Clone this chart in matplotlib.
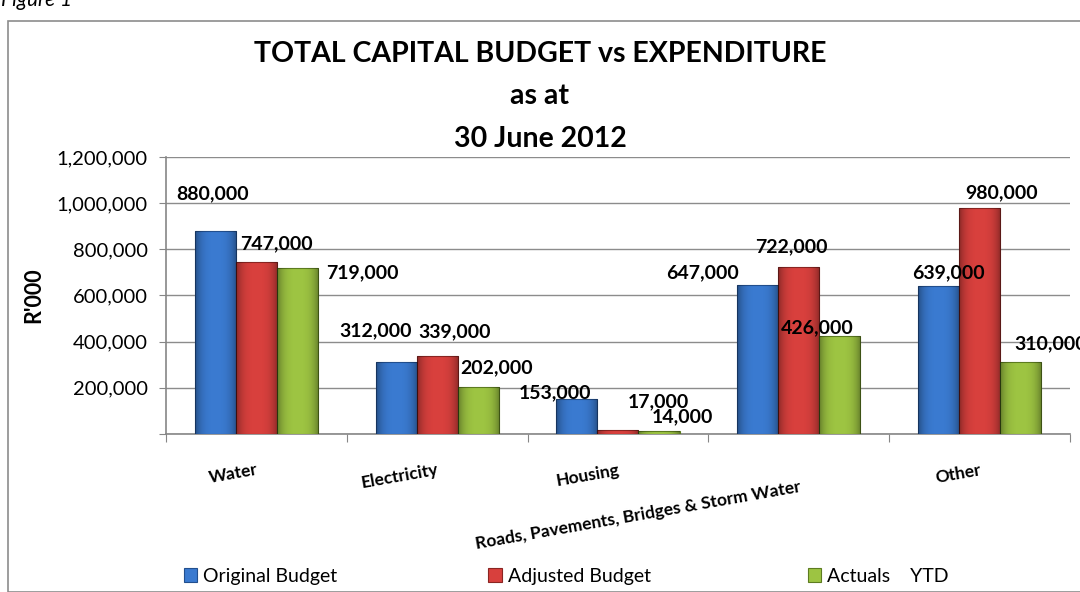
import matplotlib
matplotlib.use("Agg")
import matplotlib.pyplot as plt
import matplotlib.transforms as mtransforms
import numpy as np
from matplotlib.patches import Rectangle

categories = ["Water", "Electricity", "Housing",
              "Roads, Pavements, Bridges & Storm Water", "Other"]
original_budget = [880000, 312000, 153000, 647000, 639000]
adjusted_budget = [747000, 339000, 17000, 722000, 980000]
actuals_ytd = [719000, 202000, 14000, 426000, 310000]
series_names = ["Original Budget", "Adjusted Budget", "Actuals    YTD"]

colors = ["#3a7ad0", "#d8403d", "#9dc442"]
edges = ["#224f8e", "#8a2522", "#5d7c20"]

# label offsets (pixels) from each bar's top centre, as Excel placed them
label_dx = [[-3, -21, -22, -55, 10],
            [20, 17, 40, -7, 22],
            [65, 18, 23, -23, 30]]
label_dy = [[37, 31, 6, 12, 14],
            [18, 24, 28, 21, 15],
            [-5, 20, 14, 8, 19]]

plt.rcParams["font.family"] = ["Lato", "DejaVu Sans"]

fig = plt.figure(figsize=(10.8, 5.92), dpi=100)
ax = fig.add_axes([0.1537, 0.2669, 0.837, 0.4679])

x = np.arange(len(categories))
width = 0.227
values = [original_budget, adjusted_budget, actuals_ytd]

# bevel shading: transparent in the middle, darker towards the sides
t = np.abs(np.linspace(-1, 1, 64)) ** 3
shade = np.zeros((1, 64, 4))
shade[0, :, 3] = 0.35 * t

legend_handles = []
for k, vals in enumerate(values):
    bars = ax.bar(x + (k - 1) * width, vals, width, color=colors[k],
                  edgecolor=edges[k], linewidth=0.8, label=series_names[k], zorder=3)
    legend_handles.append(bars)
    for b in bars:
        im = ax.imshow(shade, extent=[b.get_x(), b.get_x() + b.get_width(), 0, b.get_height()],
                       aspect="auto", zorder=4, interpolation="bilinear")
        im.set_clip_path(b)
    for i, b in enumerate(bars):
        ax.annotate(f"{vals[i]:,}", xy=(b.get_x() + b.get_width() / 2, b.get_height()),
                    xytext=(label_dx[k][i], label_dy[k][i]), textcoords="offset pixels",
                    ha="center", va="center", fontsize=14, fontweight="bold",
                    color="black", zorder=6, annotation_clip=False)

ax.set_xlim(-0.5, len(categories) - 0.5)
ax.set_ylim(0, 1200000)
ax.set_yticks(np.arange(0, 1200001, 200000))
ax.set_yticklabels([""] + [f"{v:,}" for v in range(200000, 1200001, 200000)])
ax.tick_params(axis="y", labelsize=14.5, length=5, color="#868686", pad=8)
ax.yaxis.grid(True, color="#8c8c8c", linewidth=1, zorder=0)
ax.set_axisbelow(True)

ax.set_xticks(np.arange(-0.5, len(categories), 1))
ax.set_xticklabels([])
ax.set_xticks(x, minor=True)
ax.set_xticklabels(categories, minor=True, rotation=10, ha="right",
                   rotation_mode="anchor", fontsize=12.5, fontweight="bold")
ax.tick_params(axis="x", which="major", length=6, color="#868686")
ax.tick_params(axis="x", which="minor", length=0, pad=20)

# the long category name sits a little lower than the others
long_lbl = ax.get_xticklabels(minor=True)[3]
long_lbl.set_transform(long_lbl.get_transform() +
                       mtransforms.ScaledTranslation(0, -0.17, fig.dpi_scale_trans))

for side in ["top", "right"]:
    ax.spines[side].set_visible(False)
for side in ["left", "bottom"]:
    ax.spines[side].set_color("#868686")
    ax.spines[side].set_linewidth(1.2)

ax.set_ylabel("R'000", fontsize=15.5, fontweight="bold", labelpad=9)

fig.text(0.5, 0.909, "TOTAL CAPITAL BUDGET vs EXPENDITURE", ha="center", va="center",
         fontsize=20.5, fontweight="bold")
fig.text(0.5, 0.837, "as at", ha="center", va="center", fontsize=20.5, fontweight="bold")
fig.text(0.5, 0.766, "30 June 2012", ha="center", va="center", fontsize=20.5, fontweight="bold")

fig.text(0.001, 1 - 6 / 592, "Figure 1", ha="left", va="baseline",
         fontsize=15, style="italic")

# outer chart frame
fig.patches.append(Rectangle((8 / 1080, 0), 1.1, 1 - 21 / 592, transform=fig.transFigure,
                             fill=False, edgecolor="#8c8c8c", linewidth=1.2))

# one legend entry per column slot along the bottom
for h, name, lx in zip(legend_handles, series_names, [0.170, 0.452, 0.748]):
    fig.legend([h], [name], loc="center left", bbox_to_anchor=(lx, 0.027), frameon=False,
               fontsize=14, handlelength=0.7, handleheight=0.7, handletextpad=0.3,
               borderaxespad=0, borderpad=0)

fig.savefig("out.png", dpi=100)
